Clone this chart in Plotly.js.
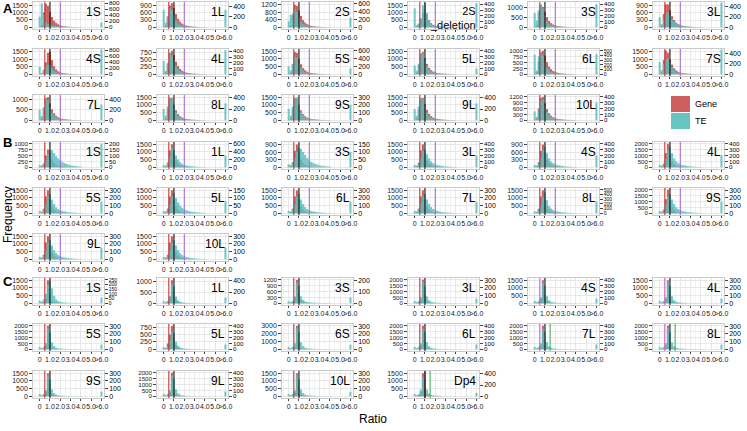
<!DOCTYPE html>
<html><head><meta charset="utf-8">
<script src="https://cdn.plot.ly/plotly-3.0.1.min.js"></script>
<style>html,body{margin:0;padding:0;background:#fff}#chart{width:747px;height:431px}</style>
</head><body><div id="chart"></div>
<script>
// bin centres (ratio), last bin = ">6.0"
const binX = [0,0.2,0.4,0.6,0.8,1.0,1.2,1.4,1.6,1.8,2.0,2.2,2.4,2.6,2.8,3.0,3.2,3.4,3.6,3.8,4.0,6.0];
const xTickVals = [0,1,2,3,4,5,6];
const xTickText = ['0','1.0','2.0','3.0','4.0','5.0','>6.0'];

const panelNames = ['1S','1L','2S','2S<br>_deletion','3S','3L','4S','4L','5S','5L','6L','7S','7L','8L','9S','9L','10L',
  '1S','1L','3S','3L','4S','4L','5S','5L','6L','7L','8L','9S','9L','10L',
  '1S','1L','3S','3L','4S','4L','5S','5L','6S','6L','7L','8L','9S','9L','10L','Dp4'];
const panelRow = [0,0,0,0,0,0,1,1,1,1,1,1,2,2,2,2,2, 3,3,3,3,3,3,4,4,4,4,4,4,5,5, 6,6,6,6,6,6,7,7,7,7,7,7,8,8,8,8];
const panelCol = [0,1,2,3,4,5,0,1,2,3,4,5,0,1,2,3,4, 0,1,2,3,4,5,0,1,2,3,4,5,0,1, 0,1,2,3,4,5,0,1,2,3,4,5,0,1,2,3];

const leftTicks = [
 [0,500,1000,1500],[0,300,600,900],[0,400,800,1200],[0,500,1000,1500],[0,500,1000],[0,300,600,900],
 [0,500,1000,1500],[0,250,500,750],[0,500,1000,1500],[0,500,1000,1500],[0,250,500,750,1000],[0,500,1000,1500],
 [0,500,1000],[0,500,1000,1500],[0,500,1000,1500],[0,500,1000,1500],[0,300,600,900,1200],
 [0,250,500,750,1000],[0,500,1000,1500],[0,300,600,900],[0,500,1000,1500],[0,300,600,900],[0,500,1000,1500,2000],
 [0,500,1000,1500],[0,500,1000,1500],[0,500,1000,1500],[0,500,1000,1500],[0,500,1000,1500],[0,500,1000,1500,2000],
 [0,500,1000,1500],[0,500,1000,1500],
 [0,500,1000,1500],[0,500,1000],[0,300,600,900,1200],[0,500,1000,1500,2000],[0,500,1000,1500],[0,500,1000,1500],
 [0,500,1000,1500,2000],[0,250,500,750],[0,1000,2000,3000],[0,500,1000,1500,2000],[0,500,1000,1500,2000],[0,500,1000,1500,2000],
 [0,500,1000,1500],[0,500,1000,1500,2000],[0,500,1000,1500],[0,500,1000,1500]];
const rightTicks = [
 [0,200,400,600,800],[0,200,400],[0,200,400,600],[0,100,200,300,400],[0,100,200,300,400],[0,200,400],
 [0,200,400,600,800],[0,100,200,300,400],[0,200,400,600],[0,100,200,300,400],[0,100,200,300,400,500],[0,200,400],
 [0,200,400],[0,200,400],[0,100,200,300],[0,200,400],[0,100,200,300,400],
 [0,50,100,150,200],[0,200,400,600],[0,50,100,150],[0,100,200,300,400],[0,100,200,300,400],[0,100,200,300,400],
 [0,100,200,300],[0,50,100,150],[0,100,200,300],[0,100,200,300],[0,100,200,300,400,500],[0,100,200,300],
 [0,100,200,300],[0,100,200,300],
 [0,50,100,150,200,250],[0,200,400],[0,100,200],[0,100,200,300],[0,100,200,300,400],[0,100,200,300],
 [0,100,200,300],[0,100,200,300,400],[0,100,200,300],[0,100,200,300,400],[0,100,200,300,400],[0,100,200,300],
 [0,100,200,300],[0,100,200,300,400],[0,100,200,300],[0,200,400]];
const leftMax = [1714,1050,1350,1750,1300,1050,1700,860,1650,1650,1080,1700,1200,1650,1650,1650,1300,
  1080,1650,1000,1650,1000,2150,1650,1650,1650,1650,1650,2150,1650,1650,
  1650,1150,1300,2150,1650,1650,2150,860,3250,2150,2150,2150,1650,2150,1650,1650];
const rightMax = [835,480,650,440,440,480,840,440,640,430,540,480,480,450,330,450,430,
  215,650,165,430,430,430,330,165,330,330,540,330,330,330,
  270,450,220,330,430,330,330,430,330,430,430,330,330,430,330,450];

const geneCounts = [
 [20,150,1000,1600,1450,1050,700,450,300,200,130,85,60,42,30,22,16,12,9,7,5,0],
 [15,80,450,900,1000,800,550,350,230,150,100,70,50,35,25,18,14,10,8,6,5,0],
 [15,100,650,1200,1150,900,600,380,250,160,105,72,50,35,25,18,14,10,8,6,5,0],
 [10,50,250,600,1000,1200,900,500,280,160,100,65,45,32,23,17,12,9,7,5,4,0],
 [15,120,750,1150,1050,800,520,330,210,140,95,65,45,32,23,17,12,9,7,5,4,0],
 [15,80,550,950,950,700,460,300,190,125,85,60,42,30,22,16,12,9,7,5,4,0],
 [15,60,300,800,1450,1500,950,550,320,200,130,85,60,42,30,22,16,12,9,7,5,0],
 [15,60,350,720,800,650,430,280,180,120,80,55,40,28,20,15,11,8,6,5,4,0],
 [15,100,650,1450,1400,1000,650,400,260,170,110,75,52,37,27,20,15,11,8,6,5,0],
 [15,100,600,1350,1450,1050,680,420,270,175,115,78,55,38,27,20,15,11,8,6,5,0],
 [15,90,550,950,1000,800,520,330,210,140,95,65,45,32,23,17,12,9,7,5,4,0],
 [15,130,950,1600,1450,1000,650,400,260,170,110,75,52,37,27,20,15,11,8,6,5,0],
 [15,90,550,1050,1100,800,520,330,210,140,95,65,45,32,23,17,12,9,7,5,4,0],
 [15,110,750,1450,1450,1000,650,400,260,170,110,75,52,37,27,20,15,11,8,6,5,0],
 [15,110,750,1450,1400,1000,650,400,260,170,110,75,52,37,27,20,15,11,8,6,5,0],
 [15,110,700,1400,1450,1050,680,420,270,175,115,78,55,38,27,20,15,11,8,6,5,0],
 [15,90,600,1150,1200,880,570,360,230,150,100,68,48,34,25,18,13,10,8,6,5,0],
 [10,40,150,500,750,600,350,200,120,70,45,30,20,14,10,7,5,4,3,2,2,0],
 [10,60,300,1100,1500,900,450,250,140,80,50,35,25,18,12,9,7,5,4,3,3,0],
 [10,40,200,650,900,600,320,180,100,60,40,28,20,14,10,7,5,4,3,2,2,0],
 [10,60,300,1100,1500,900,450,250,140,80,50,35,25,18,12,9,7,5,4,3,3,0],
 [10,40,200,650,900,600,320,180,100,60,40,28,20,14,10,7,5,4,3,2,2,0],
 [10,60,300,1200,2000,1100,500,250,140,80,50,35,25,18,12,9,7,5,4,3,3,0],
 [10,60,300,1100,1500,900,450,250,140,80,50,35,25,18,12,9,7,5,4,3,3,0],
 [10,60,300,1100,1500,900,450,250,140,80,50,35,25,18,12,9,7,5,4,3,3,0],
 [10,60,300,1100,1500,900,450,250,140,80,50,35,25,18,12,9,7,5,4,3,3,0],
 [10,60,300,1100,1500,900,450,250,140,80,50,35,25,18,12,9,7,5,4,3,3,0],
 [10,60,300,1100,1500,900,450,250,140,80,50,35,25,18,12,9,7,5,4,3,3,0],
 [10,60,300,1200,2000,1100,500,250,140,80,50,35,25,18,12,9,7,5,4,3,3,0],
 [10,60,300,1100,1500,900,450,250,140,80,50,35,25,18,12,9,7,5,4,3,3,0],
 [10,60,300,1100,1500,900,450,250,140,80,50,35,25,18,12,9,7,5,4,3,3,0],
 [10,20,80,300,1500,600,150,60,30,18,12,8,6,4,3,2,2,1,1,1,1,0],
 [10,20,80,300,1050,500,150,60,30,18,12,8,6,4,3,2,2,1,1,1,1,0],
 [10,20,80,300,1200,500,150,60,30,18,12,8,6,4,3,2,2,1,1,1,1,0],
 [10,20,80,300,2000,700,150,60,30,18,12,8,6,4,3,2,2,1,1,1,1,0],
 [10,20,80,300,1500,600,150,60,30,18,12,8,6,4,3,2,2,1,1,1,1,0],
 [10,20,80,300,1500,600,150,60,30,18,12,8,6,4,3,2,2,1,1,1,1,0],
 [10,20,80,300,2000,700,150,60,30,18,12,8,6,4,3,2,2,1,1,1,1,0],
 [10,30,200,500,800,450,150,60,30,18,12,8,6,4,3,2,2,1,1,1,1,0],
 [10,20,80,300,3000,900,150,60,30,18,12,8,6,4,3,2,2,1,1,1,1,0],
 [10,20,80,300,2000,700,150,60,30,18,12,8,6,4,3,2,2,1,1,1,1,0],
 [10,20,80,300,2000,700,150,60,30,18,12,8,6,4,3,2,2,1,1,1,1,0],
 [10,20,80,300,2000,700,150,60,30,18,12,8,6,4,3,2,2,1,1,1,1,0],
 [10,20,80,300,1500,600,150,60,30,18,12,8,6,4,3,2,2,1,1,1,1,0],
 [10,20,80,300,2000,700,150,60,30,18,12,8,6,4,3,2,2,1,1,1,1,0],
 [10,20,80,300,1500,600,150,60,30,18,12,8,6,4,3,2,2,1,1,1,1,0],
 [10,20,80,300,1500,600,150,60,30,18,12,8,6,4,3,2,2,1,1,1,1,0]];
const teCounts = [
 [350,790,420,160,110,80,60,45,35,28,22,18,15,12,10,9,8,7,6,5,5,160],
 [330,90,200,360,330,220,130,80,50,35,25,20,15,12,10,8,7,6,5,4,4,330],
 [150,320,350,460,400,250,140,80,50,35,25,20,15,12,10,8,7,6,5,4,4,250],
 [330,40,60,150,380,420,250,120,60,35,25,18,14,10,8,6,5,4,3,3,2,420],
 [250,120,300,400,330,200,110,60,40,28,20,15,12,10,8,6,5,4,4,3,3,400],
 [190,60,150,250,290,230,150,100,70,50,35,25,18,13,10,8,7,6,5,4,4,470],
 [250,40,120,250,330,300,200,120,70,45,30,22,17,13,10,8,7,6,5,4,4,820],
 [230,60,200,350,330,230,140,85,55,38,27,20,15,12,10,8,7,6,5,4,4,420],
 [200,100,250,450,420,280,160,90,55,38,27,20,15,12,10,8,7,6,5,4,4,150],
 [150,60,180,330,350,240,140,85,55,38,27,20,15,12,10,8,7,6,5,4,4,100],
 [420,80,380,480,400,250,140,80,50,35,25,18,14,11,9,7,6,5,4,4,3,430],
 [230,80,200,280,300,220,130,80,50,35,25,18,14,11,9,7,6,5,4,4,3,470],
 [200,80,250,400,380,250,140,80,50,35,25,18,14,11,9,7,6,5,4,4,3,300],
 [200,80,250,400,380,250,140,80,50,35,25,18,14,11,9,7,6,5,4,4,3,300],
 [150,60,180,280,300,200,120,70,45,30,22,16,12,10,8,6,5,4,4,3,3,200],
 [200,80,250,400,380,250,140,80,50,35,25,18,14,11,9,7,6,5,4,4,3,300],
 [150,60,180,330,350,240,140,85,55,38,27,20,15,12,10,8,7,6,5,4,4,300],
 [20,15,30,60,110,150,145,120,95,75,60,45,35,28,22,17,13,10,8,6,5,200],
 [60,40,100,300,500,450,300,200,130,90,60,45,35,28,22,17,13,10,8,6,5,300],
 [20,15,30,60,100,130,120,100,80,60,45,35,28,22,17,13,10,8,6,5,4,100],
 [40,30,60,150,280,300,220,150,100,70,50,38,30,24,18,14,11,9,7,5,4,200],
 [40,30,60,150,300,350,240,150,100,70,50,38,30,24,18,14,11,9,7,5,4,200],
 [40,30,60,150,300,350,240,150,100,70,50,38,30,24,18,14,11,9,7,5,4,200],
 [30,25,50,120,220,250,180,120,80,55,40,30,24,18,14,11,9,7,5,4,3,150],
 [15,12,25,60,110,130,100,70,50,36,26,20,15,12,9,7,6,5,4,3,2,80],
 [30,25,50,120,220,250,180,120,80,55,40,30,24,18,14,11,9,7,5,4,3,150],
 [30,25,50,120,220,250,180,120,80,55,40,30,24,18,14,11,9,7,5,4,3,150],
 [40,30,60,150,350,450,280,150,100,70,50,38,30,24,18,14,11,9,7,5,4,250],
 [30,25,50,120,220,250,180,120,80,55,40,30,24,18,14,11,9,7,5,4,3,150],
 [30,25,50,120,220,250,180,120,80,55,40,30,24,18,14,11,9,7,5,4,3,150],
 [30,25,50,120,220,250,180,120,80,55,40,30,24,18,14,11,9,7,5,4,3,150],
 [30,20,40,100,200,240,160,80,40,25,15,10,8,6,5,4,3,3,2,2,2,60],
 [40,20,40,120,350,300,120,50,25,15,10,8,6,5,4,3,3,2,2,2,2,100],
 [20,10,20,60,180,150,60,30,15,10,8,6,5,4,3,3,2,2,2,2,2,50],
 [30,15,30,80,280,220,90,40,20,12,9,7,5,4,3,3,2,2,2,2,2,60],
 [40,20,40,100,350,300,120,50,25,15,10,8,6,5,4,3,3,2,2,2,2,80],
 [30,15,30,80,280,220,90,40,20,12,9,7,5,4,3,3,2,2,2,2,2,60],
 [30,15,30,80,280,220,90,40,20,12,9,7,5,4,3,3,2,2,2,2,2,60],
 [40,20,60,150,300,280,130,60,30,15,10,8,6,5,4,3,3,2,2,2,2,80],
 [30,15,30,80,280,220,90,40,20,12,9,7,5,4,3,3,2,2,2,2,2,60],
 [40,20,40,100,350,300,120,50,25,15,10,8,6,5,4,3,3,2,2,2,2,80],
 [40,20,40,100,350,300,120,50,25,15,10,8,6,5,4,3,3,2,2,2,2,80],
 [30,15,30,80,280,220,90,40,20,12,9,7,5,4,3,3,2,2,2,2,2,60],
 [30,15,30,80,280,220,90,40,20,12,9,7,5,4,3,3,2,2,2,2,2,60],
 [40,20,40,100,350,300,120,50,25,15,10,8,6,5,4,3,3,2,2,2,2,80],
 [30,15,30,80,280,220,90,40,20,12,9,7,5,4,3,3,2,2,2,2,2,60],
 [40,20,40,120,350,300,120,50,25,15,10,8,6,5,4,3,3,2,2,2,2,60]];

// reference lines per panel (ratio value or null)
const redLine = [0.5,0.5,0.5,0.5,0.5,0.5,0.5,0.5,0.5,0.5,0.5,0.5,0.5,0.5,0.5,0.5,0.5,
  0.5,0.5,0.5,0.5,0.5,0.5,0.5,0.5,0.5,0.5,0.5,0.5,0.5,0.5,
  0.5,0.5,0.5,0.5,null,null,0.5,0.5,0.5,0.5,null,null,0.5,0.5,0.5,1.0];
const magentaLine = [null,null,null,null,null,null,null,null,null,null,null,null,null,null,null,null,null,
  null,null,null,null,null,null,null,null,null,null,null,null,null,null,
  null,null,null,null,0.5,0.5,null,null,null,null,0.5,0.5,null,null,null,null];
const blackLine = Array(47).fill(1.0);
const purpleLine = Array(31).fill(2.0).concat(Array(16).fill(null));
const greenLine = [null,null,null,null,null,null,null,null,null,null,null,null,null,null,null,null,null,
  null,null,null,null,null,null,null,null,null,null,null,null,null,null,
  null,null,null,null,null,null,null,null,null,null,1.5,1.5,null,null,null,1.5];

// ---------- layout geometry (pixels) ----------
const W = 747, H = 431;
const colLeft = [33,157,282,408,528,653];
const plotW = 71;
const rowBottom = [29,76,122,169,215,261,305,351,398];
const plotH = 27;

const GENE = 'rgb(205,96,92)';
const TE = 'rgba(90,190,190,0.85)';
const GRID = '#E2E2E2';
const TXT = '#222222';

// tick label size shrinks on crowded axes so labels do not collide
function tickSize(n) { return n >= 6 ? 5 : (n === 5 ? 6.2 : 7); }

const data = [];
const layout = {
  width: W, height: H, margin: {l:0,r:0,t:0,b:0},
  paper_bgcolor:'#fff', plot_bgcolor:'#fff', barmode:'overlay', showlegend:false,
  font:{family:'Liberation Sans, Arial, sans-serif', color:TXT, size:7},
  shapes:[], annotations:[]
};

for (let i = 0; i < panelNames.length; i++) {
  const k = i + 1;
  const xn = k === 1 ? 'x' : 'x' + k;
  const yl = (2*i+1) === 1 ? 'y' : 'y' + (2*i+1);
  const yr = 'y' + (2*i+2);
  const xkey = k === 1 ? 'xaxis' : 'xaxis' + k;
  const ylkey = (2*i+1) === 1 ? 'yaxis' : 'yaxis' + (2*i+1);
  const yrkey = 'yaxis' + (2*i+2);
  const r = panelRow[i], c = panelCol[i];
  const x0 = colLeft[c] / W, x1 = (colLeft[c] + plotW) / W;
  const yb = 1 - rowBottom[r] / H, yt = 1 - (rowBottom[r] - plotH) / H;

  data.push({type:'bar', x: binX, y: geneCounts[i], width: 0.2, xaxis: xn, yaxis: yl,
    marker:{color: GENE, line:{width:0}}, hoverinfo:'skip'});
  data.push({type:'bar', x: binX, y: teCounts[i], width: 0.2, xaxis: xn, yaxis: yr,
    marker:{color: TE, line:{width:0}}, hoverinfo:'skip'});

  layout[xkey] = {domain:[x0,x1], anchor: yl, range:[-0.65,6.25], tickmode:'array',
    tickvals: xTickVals, ticktext: xTickText, tickangle:0, ticks:'outside', ticklen:2, tickcolor:'#444',
    color: TXT, tickfont:{size:7, color:TXT}, showgrid:true, gridcolor:GRID, gridwidth:0.8,
    minor:{tickmode:'linear', tick0:0.5, dtick:1, showgrid:true, gridcolor:'#F0F0F0', ticks:''},
    zeroline:false, showline:true, linecolor:'#BBBBBB', linewidth:0.8, mirror:true, fixedrange:true};
  const lm = leftMax[i], rm = rightMax[i];
  layout[ylkey] = {domain:[yb,yt], anchor: xn, range:[-0.07*lm, lm], tickmode:'array',
    tickvals: leftTicks[i], tickangle:0, ticks:'outside', ticklen:3, tickcolor:'#444',
    color: TXT, tickfont:{size:tickSize(leftTicks[i].length), color:TXT}, showgrid:true, gridcolor:GRID, gridwidth:0.8,
    zeroline:false, showline:true, linecolor:'#BBBBBB', linewidth:0.8, fixedrange:true};
  layout[yrkey] = {overlaying: yl, side:'right', anchor: xn, range:[-0.07*rm, rm], tickmode:'array',
    tickvals: rightTicks[i], tickangle:0, ticks:'outside', ticklen:3, tickcolor:'#444',
    color: '#000', tickfont:{size:tickSize(rightTicks[i].length), color:'#000'}, showgrid:false, zeroline:false, showline:true,
    linecolor:'#BBBBBB', linewidth:0.8, fixedrange:true};

  const lines = [[redLine[i],'rgb(190,40,40)'],[magentaLine[i],'rgb(200,80,200)'],[blackLine[i],'#000'],
    [purpleLine[i],'rgb(165,95,215)'],[greenLine[i],'rgb(60,170,80)']];
  lines.forEach(([v,col]) => {
    if (v === null || v === undefined) return;
    layout.shapes.push({type:'line', xref: xn, yref: yl + ' domain', x0: v, x1: v, y0: 0, y1: 1,
      line:{color: col, width: 1}, layer:'above'});
  });

  layout.annotations.push({xref: xn + ' domain', yref: yl + ' domain', x: 0.98, y: 0.98,
    xanchor:'right', yanchor:'top', align:'right', showarrow:false, text: panelNames[i],
    font:{size: panelNames[i].length > 4 ? 11 : 12, color:'#000'}});
}

// section letters
[[8,'A'],[142,'B'],[281,'C']].forEach(([y,t]) => {
  layout.annotations.push({xref:'paper', yref:'paper', x: 1/W, y: 1 - y/H, xanchor:'left', yanchor:'middle',
    showarrow:false, text:'<b>'+t+'</b>', font:{size:13, color:'#000'}});
});
// axis titles
layout.annotations.push({xref:'paper', yref:'paper', x: 8/W, y: 1 - 215/H, textangle:-90,
  showarrow:false, text:'Frequency', font:{size:12, color:'#000'}, xanchor:'center', yanchor:'middle'});
layout.annotations.push({xref:'paper', yref:'paper', x: 373/W, y: 1 - 419/H,
  showarrow:false, text:'Ratio', font:{size:12, color:'#000'}, xanchor:'center', yanchor:'middle'});

// legend
layout.shapes.push({type:'rect', xref:'paper', yref:'paper', x0:671/W, x1:690/W, y0:1-112/H, y1:1-96/H,
  fillcolor: GENE, line:{width:0}});
layout.shapes.push({type:'rect', xref:'paper', yref:'paper', x0:671/W, x1:690/W, y0:1-129/H, y1:1-113/H,
  fillcolor: 'rgb(104,195,195)', line:{width:0}});
layout.annotations.push({xref:'paper', yref:'paper', x:693/W, y:1-104/H, xanchor:'left', yanchor:'middle',
  showarrow:false, text:'Gene', font:{size:9, color:'#000'}});
layout.annotations.push({xref:'paper', yref:'paper', x:693/W, y:1-121/H, xanchor:'left', yanchor:'middle',
  showarrow:false, text:'TE', font:{size:9, color:'#000'}});

Plotly.newPlot('chart', data, layout, {staticPlot:true, displayModeBar:false});
</script></body></html>
